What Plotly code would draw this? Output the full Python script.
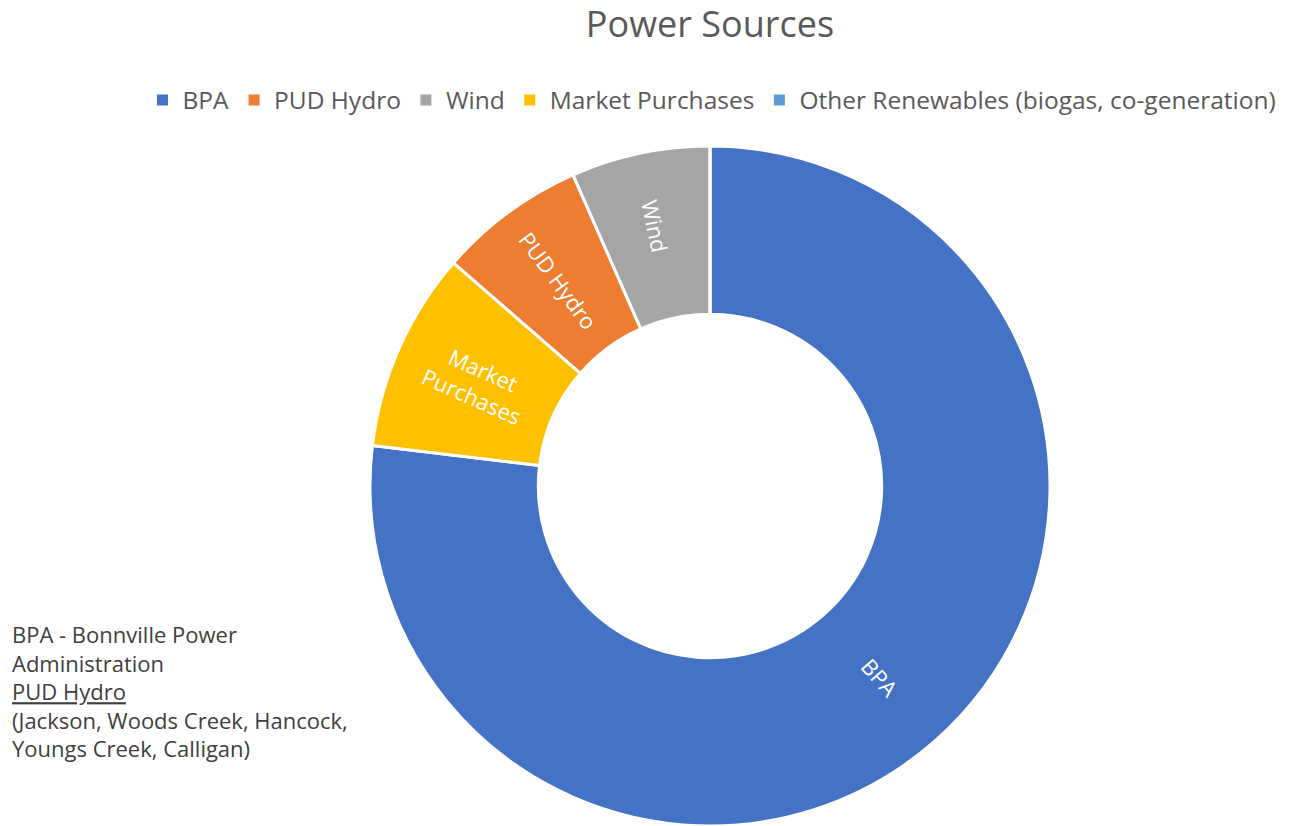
import math
import plotly.graph_objects as go

# Data (clockwise from 12 o'clock)
slice_labels = ["BPA", "Market Purchases", "PUD Hydro", "Wind", "Other Renewables (biogas, co-generation)"]
slice_text = ["BPA", "Market<br>Purchases", "PUD Hydro", "Wind", ""]
slice_values = [76.9, 9.5, 7.0, 6.6, 0.0]
slice_colors = ["#4472C4", "#FFC000", "#ED7D31", "#A5A5A5", "#5B9BD5"]

# Legend order as in the reference
legend_labels = ["BPA", "PUD Hydro", "Wind", "Market Purchases", "Other Renewables (biogas, co-generation)"]
legend_colors = ["#4472C4", "#ED7D31", "#A5A5A5", "#FFC000", "#5B9BD5"]

FONT = "Open Sans"
GRAY = "#595959"
W, H = 1303, 826
HOLE = 0.505

# pie geometry (pixels)
pie_left, pie_right = 370, 1050
top = 146
plot_h = 680

fig = go.Figure()
# The large first slice gets its radial label as an annotation (plotly places
# radial text for slices > 180 deg at an odd spot); all others use the pie.
pie_text = [""] + slice_text[1:]
fig.add_trace(go.Pie(
    labels=slice_labels,
    values=slice_values,
    text=pie_text,
    textinfo="text",
    hole=HOLE,
    sort=False,
    direction="clockwise",
    rotation=0,
    showlegend=False,
    marker=dict(colors=slice_colors, line=dict(color="white", width=3)),
    textfont=dict(color="white", size=22, family=FONT),
    insidetextorientation="radial",
    textposition="inside",
    hoverinfo="label+percent",
    domain=dict(x=[pie_left / W, pie_right / W], y=[0, 1]),
))

for lab, col in zip(legend_labels, legend_colors):
    fig.add_trace(go.Scatter(
        x=[None], y=[None], mode="markers", name=lab,
        marker=dict(symbol="square", size=11, color=col),
        hoverinfo="skip",
    ))

# BPA label position derived from the data (mid-angle of first slice, mid ring)
total = sum(slice_values)
theta = slice_values[0] / total / 2 * 2 * math.pi
R = min(pie_right - pie_left, plot_h) / 2
r_mid = R * (1 + HOLE) / 2
cx = (pie_left + pie_right) / 2
cy = top + plot_h / 2
bx = cx + r_mid * math.sin(theta)
by = cy - r_mid * math.cos(theta)

fig.update_layout(
    width=W, height=H,
    margin=dict(l=0, r=0, t=top, b=max(0, H - top - plot_h)),
    paper_bgcolor="white", plot_bgcolor="white",
    font=dict(family=FONT, color=GRAY),
    title=dict(text="Power Sources", x=710 / W, xanchor="center",
               y=1 - 24 / H, yanchor="middle", yref="container",
               font=dict(size=36, color=GRAY, family=FONT)),
    legend=dict(orientation="h", x=712 / W, xanchor="center",
                y=1 + (top - 100) / plot_h, yanchor="middle",
                font=dict(size=24.5, color=GRAY, family=FONT),
                itemwidth=30, tracegroupgap=0),
    xaxis=dict(visible=False), yaxis=dict(visible=False),
    annotations=[
        dict(
            text=("BPA - Bonnville Power<br>Administration<br><u>PUD Hydro</u><br>"
                  "(Jackson, Woods Creek, Hancock,<br>Youngs Creek, Calligan)"),
            xref="paper", yref="paper", x=10 / W, y=1 - (617 - top) / plot_h,
            xanchor="left", yanchor="top", align="left", showarrow=False,
            font=dict(size=22, color="#404040", family=FONT),
        ),
        dict(
            text=slice_text[0], xref="paper", yref="paper",
            x=bx / W, y=1 - (by - top) / plot_h,
            xanchor="center", yanchor="middle", showarrow=False,
            textangle=math.degrees(theta) - 90,
            font=dict(size=22, color="white", family=FONT),
        ),
    ],
)

fig.write_html("out.html", config={"displayModeBar": False},
               post_script="document.body.style.margin='0';")
